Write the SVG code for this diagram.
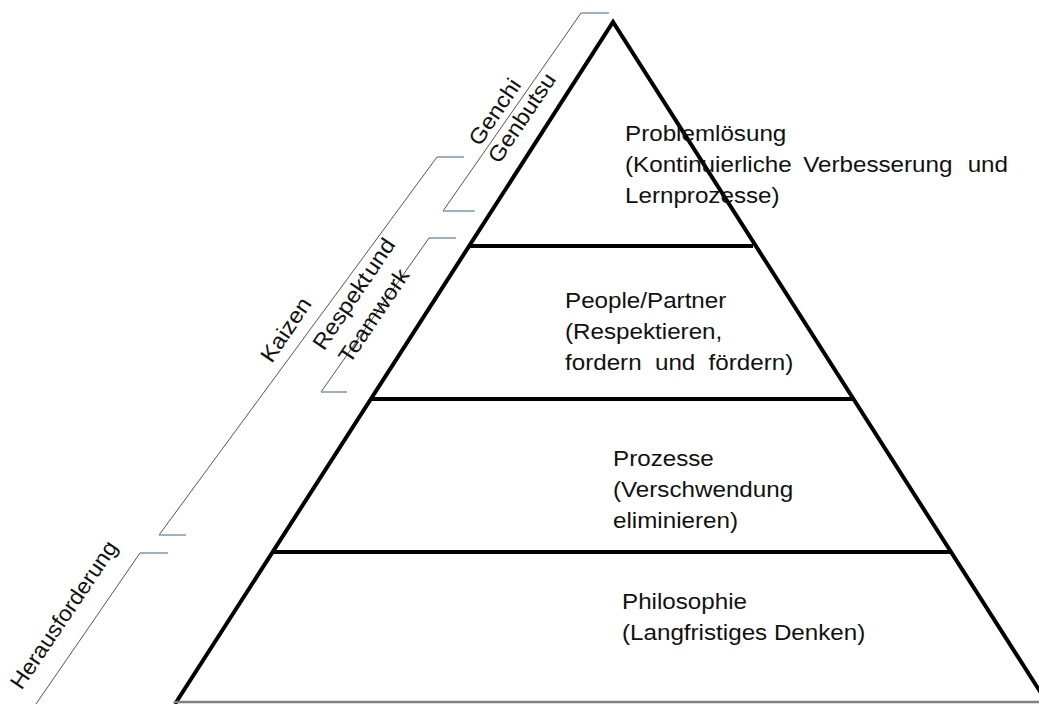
<svg xmlns="http://www.w3.org/2000/svg" width="1039" height="704" viewBox="0 0 1039 704">
<style>
.t{font-family:"Liberation Sans",Arial,sans-serif;font-size:22px;fill:#111}
.r{font-family:"Liberation Sans",Arial,sans-serif;font-size:22px;fill:#111;text-anchor:middle}
.edge{stroke:#000;stroke-width:4;fill:none;stroke-linejoin:miter}
.br{stroke:#555;stroke-width:1;fill:none}
.tk{stroke:#7f97ad;stroke-width:1.5;fill:none}
</style>
<rect width="1039" height="704" fill="#fff"/>
<g id="connectors">
<path class="edge" d="M175,704 L613,22 L1048,704"/>
<line x1="174" y1="702" x2="1039" y2="702" stroke="#808080" stroke-width="2.5"/>
<g id="brackets">
<path class="br" d="M581,13 L443,211"/>
<path class="tk" d="M581,13 H609 M443,211 H475"/>
<path class="br" d="M437,157 L159,535"/>
<path class="tk" d="M437,157 H464 M159,535 H186"/>
<path class="br" d="M429,238 L321,392"/>
<path class="tk" d="M429,238 H456 M321,392 H347"/>
<path class="br" d="M140,553 L36,704"/>
<path class="tk" d="M140,553 H168"/>
</g>
</g>
<g id="level-problemloesung">
<line class="edge" x1="470" y1="246" x2="753" y2="246"/>
<g transform="translate(625,0) scale(1.1,1)">
<text class="t" x="0" y="141">Problemlösung</text>
<text class="t" y="172"><tspan x="0">(Kontinuierliche</tspan><tspan x="162">Verbesserung</tspan><tspan x="311.5">und</tspan></text>
<text class="t" x="0" y="203">Lernprozesse)</text>
</g>
</g>
<g id="level-people">
<line class="edge" x1="370" y1="399" x2="853" y2="399"/>
<g transform="translate(565,0) scale(1.1,1)">
<text class="t" x="0" y="308">People/Partner</text>
<text class="t" x="0" y="339">(Respektieren,</text>
<text class="t" x="0" y="370" word-spacing="6">fordern und fördern)</text>
</g>
</g>
<g id="level-prozesse">
<line class="edge" x1="272" y1="552" x2="950" y2="552"/>
<g transform="translate(613,0) scale(1.1,1)">
<text class="t" x="0" y="466">Prozesse</text>
<text class="t" x="0" y="497">(Verschwendung</text>
<text class="t" x="0" y="528">eliminieren)</text>
</g>
</g>
<g id="level-philosophie">
<g transform="translate(622,0) scale(1.1,1)">
<text class="t" x="0" y="609">Philosophie</text>
<text class="t" x="0" y="640">(Langfristiges Denken)</text>
</g>
</g>
<g id="label-genchi">
<text class="r" transform="translate(501,116) rotate(-56) scale(1.08,1)">Genchi</text>
<text class="r" transform="translate(528,122) rotate(-56) scale(1.08,1)">Genbutsu</text>
</g>
<g id="label-kaizen">
<text class="r" transform="translate(292,334) rotate(-56) scale(1.08,1)">Kaizen</text>
</g>
<g id="label-respekt">
<text class="r" transform="translate(360,298) rotate(-56) scale(1.08,1)" word-spacing="-4">Respekt und</text>
<text class="r" transform="translate(380,320) rotate(-56) scale(1.08,1)">Teamwork</text>
</g>
<g id="label-herausforderung">
<text class="r" transform="translate(70,619) rotate(-56) scale(1.05,1)">Herausforderung</text>
</g>
</svg>
